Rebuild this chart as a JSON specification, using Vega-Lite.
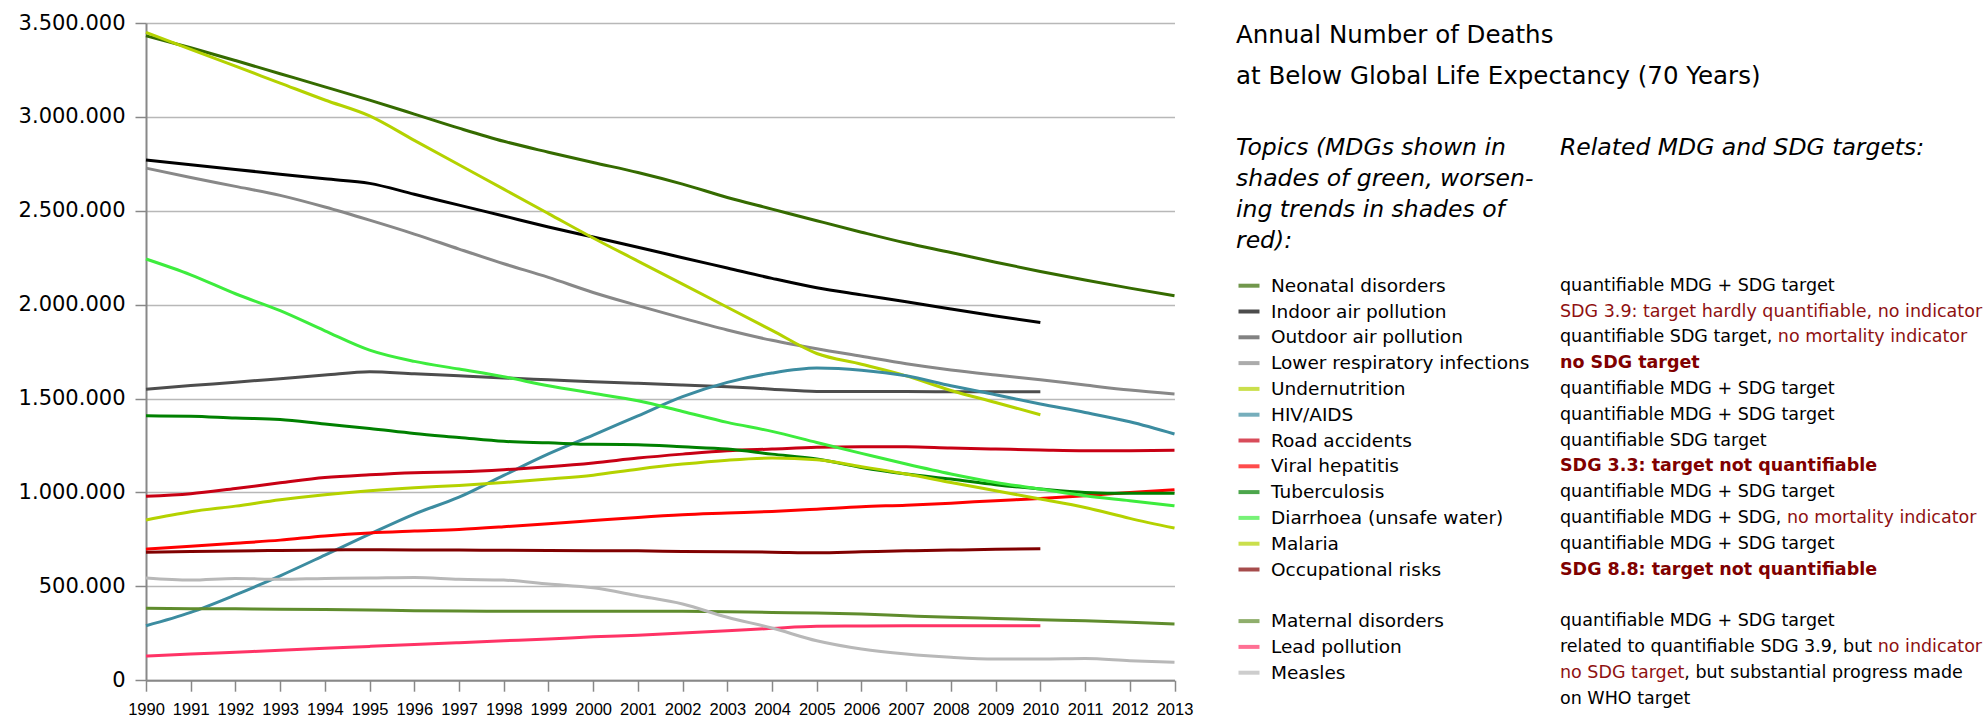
{
  "$schema": "https://vega.github.io/schema/vega-lite/v6.json",
  "background": "white",
  "padding": {"left": 18, "top": 12, "right": 0, "bottom": 0},
  "bounds": "flush",
  "spacing": 61,
  "config": {
    "view": {"stroke": null},
    "font": "DejaVu Sans",
    "locale": {"number": {"decimal": ",", "thousands": ".", "grouping": [3], "currency": ["", " €"]}}
  },
  "resolve": {"scale": {"color": "independent", "x": "independent", "y": "independent"}},
  "datasets": {
    "deaths": [
      {"topic":"Neonatal disorders","year":1990,"deaths":3432000},{"topic":"Neonatal disorders","year":1991,"deaths":3368000},{"topic":"Neonatal disorders","year":1992,"deaths":3300000},{"topic":"Neonatal disorders","year":1993,"deaths":3230000},{"topic":"Neonatal disorders","year":1994,"deaths":3160000},{"topic":"Neonatal disorders","year":1995,"deaths":3089000},{"topic":"Neonatal disorders","year":1996,"deaths":3015000},{"topic":"Neonatal disorders","year":1997,"deaths":2940000},{"topic":"Neonatal disorders","year":1998,"deaths":2870000},{"topic":"Neonatal disorders","year":1999,"deaths":2812000},{"topic":"Neonatal disorders","year":2000,"deaths":2757000},{"topic":"Neonatal disorders","year":2001,"deaths":2704000},{"topic":"Neonatal disorders","year":2002,"deaths":2642000},{"topic":"Neonatal disorders","year":2003,"deaths":2571000},{"topic":"Neonatal disorders","year":2004,"deaths":2509000},{"topic":"Neonatal disorders","year":2005,"deaths":2447000},{"topic":"Neonatal disorders","year":2006,"deaths":2386000},{"topic":"Neonatal disorders","year":2007,"deaths":2328000},{"topic":"Neonatal disorders","year":2008,"deaths":2278000},{"topic":"Neonatal disorders","year":2009,"deaths":2226000},{"topic":"Neonatal disorders","year":2010,"deaths":2177000},{"topic":"Neonatal disorders","year":2011,"deaths":2131000},{"topic":"Neonatal disorders","year":2012,"deaths":2088000},{"topic":"Neonatal disorders","year":2013,"deaths":2047000},
      {"topic":"Indoor air pollution","year":1990,"deaths":2770000},{"topic":"Indoor air pollution","year":1991,"deaths":2745000},{"topic":"Indoor air pollution","year":1992,"deaths":2720000},{"topic":"Indoor air pollution","year":1993,"deaths":2695000},{"topic":"Indoor air pollution","year":1994,"deaths":2670000},{"topic":"Indoor air pollution","year":1995,"deaths":2646000},{"topic":"Indoor air pollution","year":1996,"deaths":2588000},{"topic":"Indoor air pollution","year":1997,"deaths":2530000},{"topic":"Indoor air pollution","year":1998,"deaths":2472000},{"topic":"Indoor air pollution","year":1999,"deaths":2414000},{"topic":"Indoor air pollution","year":2000,"deaths":2360000},{"topic":"Indoor air pollution","year":2001,"deaths":2306000},{"topic":"Indoor air pollution","year":2002,"deaths":2250000},{"topic":"Indoor air pollution","year":2003,"deaths":2195000},{"topic":"Indoor air pollution","year":2004,"deaths":2140000},{"topic":"Indoor air pollution","year":2005,"deaths":2090000},{"topic":"Indoor air pollution","year":2006,"deaths":2052000},{"topic":"Indoor air pollution","year":2007,"deaths":2015000},{"topic":"Indoor air pollution","year":2008,"deaths":1977000},{"topic":"Indoor air pollution","year":2009,"deaths":1940000},{"topic":"Indoor air pollution","year":2010,"deaths":1905000},
      {"topic":"Outdoor air pollution","year":1990,"deaths":1550000},{"topic":"Outdoor air pollution","year":1991,"deaths":1569000},{"topic":"Outdoor air pollution","year":1992,"deaths":1587000},{"topic":"Outdoor air pollution","year":1993,"deaths":1606000},{"topic":"Outdoor air pollution","year":1994,"deaths":1625000},{"topic":"Outdoor air pollution","year":1995,"deaths":1643000},{"topic":"Outdoor air pollution","year":1996,"deaths":1632000},{"topic":"Outdoor air pollution","year":1997,"deaths":1621000},{"topic":"Outdoor air pollution","year":1998,"deaths":1610000},{"topic":"Outdoor air pollution","year":1999,"deaths":1600000},{"topic":"Outdoor air pollution","year":2000,"deaths":1590000},{"topic":"Outdoor air pollution","year":2001,"deaths":1581000},{"topic":"Outdoor air pollution","year":2002,"deaths":1572000},{"topic":"Outdoor air pollution","year":2003,"deaths":1563000},{"topic":"Outdoor air pollution","year":2004,"deaths":1550000},{"topic":"Outdoor air pollution","year":2005,"deaths":1538000},{"topic":"Outdoor air pollution","year":2006,"deaths":1537000},{"topic":"Outdoor air pollution","year":2007,"deaths":1537000},{"topic":"Outdoor air pollution","year":2008,"deaths":1536000},{"topic":"Outdoor air pollution","year":2009,"deaths":1536000},{"topic":"Outdoor air pollution","year":2010,"deaths":1536000},
      {"topic":"Lower respiratory infections","year":1990,"deaths":2727000},{"topic":"Lower respiratory infections","year":1991,"deaths":2677000},{"topic":"Lower respiratory infections","year":1992,"deaths":2630000},{"topic":"Lower respiratory infections","year":1993,"deaths":2582000},{"topic":"Lower respiratory infections","year":1994,"deaths":2520000},{"topic":"Lower respiratory infections","year":1995,"deaths":2450000},{"topic":"Lower respiratory infections","year":1996,"deaths":2376000},{"topic":"Lower respiratory infections","year":1997,"deaths":2296000},{"topic":"Lower respiratory infections","year":1998,"deaths":2218000},{"topic":"Lower respiratory infections","year":1999,"deaths":2145000},{"topic":"Lower respiratory infections","year":2000,"deaths":2065000},{"topic":"Lower respiratory infections","year":2001,"deaths":1995000},{"topic":"Lower respiratory infections","year":2002,"deaths":1928000},{"topic":"Lower respiratory infections","year":2003,"deaths":1865000},{"topic":"Lower respiratory infections","year":2004,"deaths":1810000},{"topic":"Lower respiratory infections","year":2005,"deaths":1765000},{"topic":"Lower respiratory infections","year":2006,"deaths":1725000},{"topic":"Lower respiratory infections","year":2007,"deaths":1685000},{"topic":"Lower respiratory infections","year":2008,"deaths":1652000},{"topic":"Lower respiratory infections","year":2009,"deaths":1625000},{"topic":"Lower respiratory infections","year":2010,"deaths":1600000},{"topic":"Lower respiratory infections","year":2011,"deaths":1572000},{"topic":"Lower respiratory infections","year":2012,"deaths":1545000},{"topic":"Lower respiratory infections","year":2013,"deaths":1524000},
      {"topic":"Undernutrition","year":1990,"deaths":3450000},{"topic":"Undernutrition","year":1991,"deaths":3360000},{"topic":"Undernutrition","year":1992,"deaths":3270000},{"topic":"Undernutrition","year":1993,"deaths":3180000},{"topic":"Undernutrition","year":1994,"deaths":3090000},{"topic":"Undernutrition","year":1995,"deaths":3005000},{"topic":"Undernutrition","year":1996,"deaths":2875000},{"topic":"Undernutrition","year":1997,"deaths":2745000},{"topic":"Undernutrition","year":1998,"deaths":2615000},{"topic":"Undernutrition","year":1999,"deaths":2485000},{"topic":"Undernutrition","year":2000,"deaths":2355000},{"topic":"Undernutrition","year":2001,"deaths":2232000},{"topic":"Undernutrition","year":2002,"deaths":2109000},{"topic":"Undernutrition","year":2003,"deaths":1986000},{"topic":"Undernutrition","year":2004,"deaths":1863000},{"topic":"Undernutrition","year":2005,"deaths":1740000},{"topic":"Undernutrition","year":2006,"deaths":1683000},{"topic":"Undernutrition","year":2007,"deaths":1621000},{"topic":"Undernutrition","year":2008,"deaths":1543000},{"topic":"Undernutrition","year":2009,"deaths":1479000},{"topic":"Undernutrition","year":2010,"deaths":1414000},
      {"topic":"HIV/AIDS","year":1990,"deaths":290000},{"topic":"HIV/AIDS","year":1991,"deaths":361000},{"topic":"HIV/AIDS","year":1992,"deaths":454000},{"topic":"HIV/AIDS","year":1993,"deaths":556000},{"topic":"HIV/AIDS","year":1994,"deaths":666000},{"topic":"HIV/AIDS","year":1995,"deaths":778000},{"topic":"HIV/AIDS","year":1996,"deaths":885000},{"topic":"HIV/AIDS","year":1997,"deaths":975000},{"topic":"HIV/AIDS","year":1998,"deaths":1091000},{"topic":"HIV/AIDS","year":1999,"deaths":1205000},{"topic":"HIV/AIDS","year":2000,"deaths":1305000},{"topic":"HIV/AIDS","year":2001,"deaths":1408000},{"topic":"HIV/AIDS","year":2002,"deaths":1510000},{"topic":"HIV/AIDS","year":2003,"deaths":1586000},{"topic":"HIV/AIDS","year":2004,"deaths":1636000},{"topic":"HIV/AIDS","year":2005,"deaths":1662000},{"topic":"HIV/AIDS","year":2006,"deaths":1651000},{"topic":"HIV/AIDS","year":2007,"deaths":1621000},{"topic":"HIV/AIDS","year":2008,"deaths":1568000},{"topic":"HIV/AIDS","year":2009,"deaths":1520000},{"topic":"HIV/AIDS","year":2010,"deaths":1471000},{"topic":"HIV/AIDS","year":2011,"deaths":1426000},{"topic":"HIV/AIDS","year":2012,"deaths":1376000},{"topic":"HIV/AIDS","year":2013,"deaths":1311000},
      {"topic":"Road accidents","year":1990,"deaths":979000},{"topic":"Road accidents","year":1991,"deaths":993000},{"topic":"Road accidents","year":1992,"deaths":1021000},{"topic":"Road accidents","year":1993,"deaths":1051000},{"topic":"Road accidents","year":1994,"deaths":1079000},{"topic":"Road accidents","year":1995,"deaths":1094000},{"topic":"Road accidents","year":1996,"deaths":1105000},{"topic":"Road accidents","year":1997,"deaths":1110000},{"topic":"Road accidents","year":1998,"deaths":1121000},{"topic":"Road accidents","year":1999,"deaths":1137000},{"topic":"Road accidents","year":2000,"deaths":1157000},{"topic":"Road accidents","year":2001,"deaths":1183000},{"topic":"Road accidents","year":2002,"deaths":1204000},{"topic":"Road accidents","year":2003,"deaths":1222000},{"topic":"Road accidents","year":2004,"deaths":1231000},{"topic":"Road accidents","year":2005,"deaths":1240000},{"topic":"Road accidents","year":2006,"deaths":1243000},{"topic":"Road accidents","year":2007,"deaths":1243000},{"topic":"Road accidents","year":2008,"deaths":1236000},{"topic":"Road accidents","year":2009,"deaths":1231000},{"topic":"Road accidents","year":2010,"deaths":1226000},{"topic":"Road accidents","year":2011,"deaths":1222000},{"topic":"Road accidents","year":2012,"deaths":1222000},{"topic":"Road accidents","year":2013,"deaths":1224000},
      {"topic":"Viral hepatitis","year":1990,"deaths":698000},{"topic":"Viral hepatitis","year":1991,"deaths":713000},{"topic":"Viral hepatitis","year":1992,"deaths":729000},{"topic":"Viral hepatitis","year":1993,"deaths":746000},{"topic":"Viral hepatitis","year":1994,"deaths":768000},{"topic":"Viral hepatitis","year":1995,"deaths":784000},{"topic":"Viral hepatitis","year":1996,"deaths":794000},{"topic":"Viral hepatitis","year":1997,"deaths":803000},{"topic":"Viral hepatitis","year":1998,"deaths":817000},{"topic":"Viral hepatitis","year":1999,"deaths":833000},{"topic":"Viral hepatitis","year":2000,"deaths":850000},{"topic":"Viral hepatitis","year":2001,"deaths":867000},{"topic":"Viral hepatitis","year":2002,"deaths":881000},{"topic":"Viral hepatitis","year":2003,"deaths":890000},{"topic":"Viral hepatitis","year":2004,"deaths":899000},{"topic":"Viral hepatitis","year":2005,"deaths":911000},{"topic":"Viral hepatitis","year":2006,"deaths":924000},{"topic":"Viral hepatitis","year":2007,"deaths":932000},{"topic":"Viral hepatitis","year":2008,"deaths":943000},{"topic":"Viral hepatitis","year":2009,"deaths":956000},{"topic":"Viral hepatitis","year":2010,"deaths":968000},{"topic":"Viral hepatitis","year":2011,"deaths":982000},{"topic":"Viral hepatitis","year":2012,"deaths":1000000},{"topic":"Viral hepatitis","year":2013,"deaths":1014000},
      {"topic":"Tuberculosis","year":1990,"deaths":1408000},{"topic":"Tuberculosis","year":1991,"deaths":1406000},{"topic":"Tuberculosis","year":1992,"deaths":1396000},{"topic":"Tuberculosis","year":1993,"deaths":1389000},{"topic":"Tuberculosis","year":1994,"deaths":1364000},{"topic":"Tuberculosis","year":1995,"deaths":1341000},{"topic":"Tuberculosis","year":1996,"deaths":1314000},{"topic":"Tuberculosis","year":1997,"deaths":1293000},{"topic":"Tuberculosis","year":1998,"deaths":1272000},{"topic":"Tuberculosis","year":1999,"deaths":1264000},{"topic":"Tuberculosis","year":2000,"deaths":1256000},{"topic":"Tuberculosis","year":2001,"deaths":1254000},{"topic":"Tuberculosis","year":2002,"deaths":1243000},{"topic":"Tuberculosis","year":2003,"deaths":1231000},{"topic":"Tuberculosis","year":2004,"deaths":1204000},{"topic":"Tuberculosis","year":2005,"deaths":1178000},{"topic":"Tuberculosis","year":2006,"deaths":1133000},{"topic":"Tuberculosis","year":2007,"deaths":1098000},{"topic":"Tuberculosis","year":2008,"deaths":1071000},{"topic":"Tuberculosis","year":2009,"deaths":1041000},{"topic":"Tuberculosis","year":2010,"deaths":1018000},{"topic":"Tuberculosis","year":2011,"deaths":1000000},{"topic":"Tuberculosis","year":2012,"deaths":995000},{"topic":"Tuberculosis","year":2013,"deaths":995000},
      {"topic":"Diarrhoea (unsafe water)","year":1990,"deaths":2243000},{"topic":"Diarrhoea (unsafe water)","year":1991,"deaths":2159000},{"topic":"Diarrhoea (unsafe water)","year":1992,"deaths":2058000},{"topic":"Diarrhoea (unsafe water)","year":1993,"deaths":1968000},{"topic":"Diarrhoea (unsafe water)","year":1994,"deaths":1861000},{"topic":"Diarrhoea (unsafe water)","year":1995,"deaths":1758000},{"topic":"Diarrhoea (unsafe water)","year":1996,"deaths":1698000},{"topic":"Diarrhoea (unsafe water)","year":1997,"deaths":1657000},{"topic":"Diarrhoea (unsafe water)","year":1998,"deaths":1616000},{"topic":"Diarrhoea (unsafe water)","year":1999,"deaths":1568000},{"topic":"Diarrhoea (unsafe water)","year":2000,"deaths":1528000},{"topic":"Diarrhoea (unsafe water)","year":2001,"deaths":1488000},{"topic":"Diarrhoea (unsafe water)","year":2002,"deaths":1431000},{"topic":"Diarrhoea (unsafe water)","year":2003,"deaths":1373000},{"topic":"Diarrhoea (unsafe water)","year":2004,"deaths":1325000},{"topic":"Diarrhoea (unsafe water)","year":2005,"deaths":1266000},{"topic":"Diarrhoea (unsafe water)","year":2006,"deaths":1208000},{"topic":"Diarrhoea (unsafe water)","year":2007,"deaths":1151000},{"topic":"Diarrhoea (unsafe water)","year":2008,"deaths":1098000},{"topic":"Diarrhoea (unsafe water)","year":2009,"deaths":1053000},{"topic":"Diarrhoea (unsafe water)","year":2010,"deaths":1018000},{"topic":"Diarrhoea (unsafe water)","year":2011,"deaths":982000},{"topic":"Diarrhoea (unsafe water)","year":2012,"deaths":956000},{"topic":"Diarrhoea (unsafe water)","year":2013,"deaths":929000},
      {"topic":"Malaria","year":1990,"deaths":853000},{"topic":"Malaria","year":1991,"deaths":897000},{"topic":"Malaria","year":1992,"deaths":927000},{"topic":"Malaria","year":1993,"deaths":961000},{"topic":"Malaria","year":1994,"deaths":988000},{"topic":"Malaria","year":1995,"deaths":1009000},{"topic":"Malaria","year":1996,"deaths":1025000},{"topic":"Malaria","year":1997,"deaths":1037000},{"topic":"Malaria","year":1998,"deaths":1053000},{"topic":"Malaria","year":1999,"deaths":1071000},{"topic":"Malaria","year":2000,"deaths":1092000},{"topic":"Malaria","year":2001,"deaths":1124000},{"topic":"Malaria","year":2002,"deaths":1151000},{"topic":"Malaria","year":2003,"deaths":1172000},{"topic":"Malaria","year":2004,"deaths":1183000},{"topic":"Malaria","year":2005,"deaths":1174000},{"topic":"Malaria","year":2006,"deaths":1137000},{"topic":"Malaria","year":2007,"deaths":1098000},{"topic":"Malaria","year":2008,"deaths":1053000},{"topic":"Malaria","year":2009,"deaths":1009000},{"topic":"Malaria","year":2010,"deaths":965000},{"topic":"Malaria","year":2011,"deaths":920000},{"topic":"Malaria","year":2012,"deaths":862000},{"topic":"Malaria","year":2013,"deaths":810000},
      {"topic":"Occupational risks","year":1990,"deaths":682000},{"topic":"Occupational risks","year":1991,"deaths":685000},{"topic":"Occupational risks","year":1992,"deaths":688000},{"topic":"Occupational risks","year":1993,"deaths":691000},{"topic":"Occupational risks","year":1994,"deaths":693000},{"topic":"Occupational risks","year":1995,"deaths":695000},{"topic":"Occupational risks","year":1996,"deaths":694000},{"topic":"Occupational risks","year":1997,"deaths":693000},{"topic":"Occupational risks","year":1998,"deaths":692000},{"topic":"Occupational risks","year":1999,"deaths":691000},{"topic":"Occupational risks","year":2000,"deaths":690000},{"topic":"Occupational risks","year":2001,"deaths":689000},{"topic":"Occupational risks","year":2002,"deaths":686000},{"topic":"Occupational risks","year":2003,"deaths":684000},{"topic":"Occupational risks","year":2004,"deaths":682000},{"topic":"Occupational risks","year":2005,"deaths":679000},{"topic":"Occupational risks","year":2006,"deaths":684000},{"topic":"Occupational risks","year":2007,"deaths":689000},{"topic":"Occupational risks","year":2008,"deaths":693000},{"topic":"Occupational risks","year":2009,"deaths":697000},{"topic":"Occupational risks","year":2010,"deaths":700000},
      {"topic":"Maternal disorders","year":1990,"deaths":383000},{"topic":"Maternal disorders","year":1991,"deaths":381000},{"topic":"Maternal disorders","year":1992,"deaths":380000},{"topic":"Maternal disorders","year":1993,"deaths":378000},{"topic":"Maternal disorders","year":1994,"deaths":376000},{"topic":"Maternal disorders","year":1995,"deaths":374000},{"topic":"Maternal disorders","year":1996,"deaths":370000},{"topic":"Maternal disorders","year":1997,"deaths":368000},{"topic":"Maternal disorders","year":1998,"deaths":367000},{"topic":"Maternal disorders","year":1999,"deaths":367000},{"topic":"Maternal disorders","year":2000,"deaths":367000},{"topic":"Maternal disorders","year":2001,"deaths":367000},{"topic":"Maternal disorders","year":2002,"deaths":367000},{"topic":"Maternal disorders","year":2003,"deaths":365000},{"topic":"Maternal disorders","year":2004,"deaths":361000},{"topic":"Maternal disorders","year":2005,"deaths":358000},{"topic":"Maternal disorders","year":2006,"deaths":352000},{"topic":"Maternal disorders","year":2007,"deaths":343000},{"topic":"Maternal disorders","year":2008,"deaths":335000},{"topic":"Maternal disorders","year":2009,"deaths":329000},{"topic":"Maternal disorders","year":2010,"deaths":322000},{"topic":"Maternal disorders","year":2011,"deaths":317000},{"topic":"Maternal disorders","year":2012,"deaths":308000},{"topic":"Maternal disorders","year":2013,"deaths":299000},
      {"topic":"Lead pollution","year":1990,"deaths":129000},{"topic":"Lead pollution","year":1991,"deaths":139000},{"topic":"Lead pollution","year":1992,"deaths":149000},{"topic":"Lead pollution","year":1993,"deaths":159000},{"topic":"Lead pollution","year":1994,"deaths":170000},{"topic":"Lead pollution","year":1995,"deaths":180000},{"topic":"Lead pollution","year":1996,"deaths":190000},{"topic":"Lead pollution","year":1997,"deaths":200000},{"topic":"Lead pollution","year":1998,"deaths":210000},{"topic":"Lead pollution","year":1999,"deaths":220000},{"topic":"Lead pollution","year":2000,"deaths":231000},{"topic":"Lead pollution","year":2001,"deaths":240000},{"topic":"Lead pollution","year":2002,"deaths":251000},{"topic":"Lead pollution","year":2003,"deaths":263000},{"topic":"Lead pollution","year":2004,"deaths":276000},{"topic":"Lead pollution","year":2005,"deaths":287000},{"topic":"Lead pollution","year":2006,"deaths":289000},{"topic":"Lead pollution","year":2007,"deaths":290000},{"topic":"Lead pollution","year":2008,"deaths":290000},{"topic":"Lead pollution","year":2009,"deaths":290000},{"topic":"Lead pollution","year":2010,"deaths":290000},
      {"topic":"Measles","year":1990,"deaths":544000},{"topic":"Measles","year":1991,"deaths":533000},{"topic":"Measles","year":1992,"deaths":542000},{"topic":"Measles","year":1993,"deaths":537000},{"topic":"Measles","year":1994,"deaths":542000},{"topic":"Measles","year":1995,"deaths":544000},{"topic":"Measles","year":1996,"deaths":547000},{"topic":"Measles","year":1997,"deaths":537000},{"topic":"Measles","year":1998,"deaths":533000},{"topic":"Measles","year":1999,"deaths":512000},{"topic":"Measles","year":2000,"deaths":492000},{"topic":"Measles","year":2001,"deaths":450000},{"topic":"Measles","year":2002,"deaths":406000},{"topic":"Measles","year":2003,"deaths":335000},{"topic":"Measles","year":2004,"deaths":278000},{"topic":"Measles","year":2005,"deaths":210000},{"topic":"Measles","year":2006,"deaths":166000},{"topic":"Measles","year":2007,"deaths":139000},{"topic":"Measles","year":2008,"deaths":122000},{"topic":"Measles","year":2009,"deaths":113000},{"topic":"Measles","year":2010,"deaths":113000},{"topic":"Measles","year":2011,"deaths":116000},{"topic":"Measles","year":2012,"deaths":104000},{"topic":"Measles","year":2013,"deaths":95000}
    ],
    "titleLines": [
      {"col":"left","line":1,"text":"Annual Number of Deaths"},
      {"col":"left","line":2,"text":"at Below Global Life Expectancy (70 Years)"}
    ],
    "headers": [
      {"col":"left","line":1,"text":"Topics (MDGs shown in"},
      {"col":"left","line":2,"text":"shades of green, worsen-"},
      {"col":"left","line":3,"text":"ing trends in shades of"},
      {"col":"left","line":4,"text":"red):"},
      {"col":"right","line":1,"text":"Related MDG and SDG targets:"}
    ],
    "topics": [
      {"col":"left","row":1,"topic":"Neonatal disorders"},
      {"col":"left","row":2,"topic":"Indoor air pollution"},
      {"col":"left","row":3,"topic":"Outdoor air pollution"},
      {"col":"left","row":4,"topic":"Lower respiratory infections"},
      {"col":"left","row":5,"topic":"Undernutrition"},
      {"col":"left","row":6,"topic":"HIV/AIDS"},
      {"col":"left","row":7,"topic":"Road accidents"},
      {"col":"left","row":8,"topic":"Viral hepatitis"},
      {"col":"left","row":9,"topic":"Tuberculosis"},
      {"col":"left","row":10,"topic":"Diarrhoea (unsafe water)"},
      {"col":"left","row":11,"topic":"Malaria"},
      {"col":"left","row":12,"topic":"Occupational risks"},
      {"col":"left","row":14,"topic":"Maternal disorders"},
      {"col":"left","row":15,"topic":"Lead pollution"},
      {"col":"left","row":16,"topic":"Measles"}
    ],
    "targets": [
      {"col":"right","row":1,"text":"quantifiable MDG + SDG target","tone":"neutral"},
      {"col":"right","row":2,"text":"SDG 3.9: target hardly quantifiable, no indicator","tone":"critical"},
      {"col":"right","row":3,"text":"quantifiable SDG target, no mortality indicator","tone":"critical","lead":"quantifiable SDG target,","leadTone":"neutral"},
      {"col":"right","row":4,"text":"no SDG target","tone":"strong"},
      {"col":"right","row":5,"text":"quantifiable MDG + SDG target","tone":"neutral"},
      {"col":"right","row":6,"text":"quantifiable MDG + SDG target","tone":"neutral"},
      {"col":"right","row":7,"text":"quantifiable SDG target","tone":"neutral"},
      {"col":"right","row":8,"text":"SDG 3.3: target not quantifiable","tone":"strong"},
      {"col":"right","row":9,"text":"quantifiable MDG + SDG target","tone":"neutral"},
      {"col":"right","row":10,"text":"quantifiable MDG + SDG, no mortality indicator","tone":"critical","lead":"quantifiable MDG + SDG,","leadTone":"neutral"},
      {"col":"right","row":11,"text":"quantifiable MDG + SDG target","tone":"neutral"},
      {"col":"right","row":12,"text":"SDG 8.8: target not quantifiable","tone":"strong"},
      {"col":"right","row":14,"text":"quantifiable MDG + SDG target","tone":"neutral"},
      {"col":"right","row":15,"text":"related to quantifiable SDG 3.9, but no indicator","tone":"critical","lead":"related to quantifiable SDG 3.9, but","leadTone":"neutral"},
      {"col":"right","row":16,"text":"no SDG target, but substantial progress made","tone":"neutral","lead":"no SDG target","leadTone":"critical"},
      {"col":"right","row":17,"text":"on WHO target","tone":"neutral"}
    ]
  },
  "hconcat": [
    {
      "width": 1028.5,
      "height": 657.2,
      "data": {"name": "deaths"},
      "mark": {"type": "line", "strokeWidth": 3, "interpolate": "monotone"},
      "encoding": {
        "x": {
          "field": "year", "type": "quantitative",
          "scale": {"domain": [1990, 2013], "nice": false, "zero": false},
          "axis": {
            "values": [1990,1991,1992,1993,1994,1995,1996,1997,1998,1999,2000,2001,2002,2003,2004,2005,2006,2007,2008,2009,2010,2011,2012,2013],
            "format": "d", "title": null, "grid": false, "labelAngle": 0,
            "labelFont": "Liberation Sans", "labelFontSize": 16.5, "labelColor": "#000000",
            "labelPadding": 10, "labelOverlap": false, "labelFlush": false,
            "tickSize": 11, "tickColor": "#888888", "tickWidth": 1.5,
            "domainColor": "#888888", "domainWidth": 2
          }
        },
        "y": {
          "field": "deaths", "type": "quantitative",
          "scale": {"domain": [0, 3500000], "nice": false},
          "axis": {
            "values": [0, 500000, 1000000, 1500000, 2000000, 2500000, 3000000, 3500000],
            "format": ",.0f", "title": null, "grid": true,
            "gridColor": "#b8b8b8", "gridWidth": 1.3,
            "labelFont": "DejaVu Sans", "labelFontSize": 21, "labelColor": "#000000",
            "labelPadding": 10,
            "tickSize": 11, "tickColor": "#888888", "tickWidth": 1.5,
            "domainColor": "#888888", "domainWidth": 2
          }
        },
        "color": {
          "field": "topic", "type": "nominal",
          "scale": {
            "domain": ["Neonatal disorders","Indoor air pollution","Outdoor air pollution","Lower respiratory infections","Undernutrition","HIV/AIDS","Road accidents","Viral hepatitis","Tuberculosis","Diarrhoea (unsafe water)","Malaria","Occupational risks","Maternal disorders","Lead pollution","Measles"],
            "range": ["#356b00","#000000","#4d4d4d","#888888","#b4d200","#3c8ca0","#c80014","#ff0000","#008000","#3dec3d","#b4d200","#800000","#5f8c2d","#ff3366","#b8b8b8"]
          },
          "legend": null
        }
      }
    },
    {
      "width": 749,
      "height": 692.7,
      "resolve": {"scale": {"y": "independent"}},
      "layer": [
        {
          "data": {"name": "titleLines"},
          "mark": {"type": "text", "align": "left", "baseline": "middle", "font": "DejaVu Sans", "fontSize": 24.5, "color": "#000000"},
          "encoding": {
            "x": {"field": "col", "type": "nominal", "scale": {"type": "point", "domain": ["left", "right"], "range": [0, 324], "padding": 0}, "axis": null},
            "y": {"field": "line", "type": "quantitative", "scale": {"domain": [1, 2], "range": [12.7, 53.7]}, "axis": null},
            "text": {"field": "text"}
          }
        },
        {
          "data": {"name": "headers"},
          "mark": {"type": "text", "align": "left", "baseline": "middle", "font": "DejaVu Sans", "fontStyle": "italic", "fontSize": 23.5, "color": "#000000"},
          "encoding": {
            "x": {"field": "col", "type": "nominal", "scale": {"type": "point", "domain": ["left", "right"], "range": [0, 324], "padding": 0}, "axis": null},
            "y": {"field": "line", "type": "quantitative", "scale": {"domain": [1, 4], "range": [124.7, 217.7]}, "axis": null},
            "text": {"field": "text"}
          }
        },
        {
          "data": {"name": "topics"},
          "mark": {"type": "tick", "size": 21, "thickness": 4, "xOffset": 13},
          "encoding": {
            "x": {"field": "col", "type": "nominal", "scale": {"type": "point", "domain": ["left", "right"], "range": [0, 324], "padding": 0}, "axis": null},
            "y": {"field": "row", "type": "quantitative", "scale": {"domain": [1, 16], "range": [262.7, 649.7]}, "axis": null},
            "color": {
              "field": "topic", "type": "nominal",
              "scale": {
                "domain": ["Neonatal disorders","Indoor air pollution","Outdoor air pollution","Lower respiratory infections","Undernutrition","HIV/AIDS","Road accidents","Viral hepatitis","Tuberculosis","Diarrhoea (unsafe water)","Malaria","Occupational risks","Maternal disorders","Lead pollution","Measles"],
                "range": ["#356b00","#000000","#4d4d4d","#888888","#b4d200","#3c8ca0","#c80014","#ff0000","#008000","#3dec3d","#b4d200","#800000","#5f8c2d","#ff3366","#b8b8b8"]
              },
              "legend": null
            }
          }
        },
        {
          "data": {"name": "topics"},
          "mark": {"type": "text", "align": "left", "baseline": "middle", "dx": 35, "font": "DejaVu Sans", "fontSize": 18.5, "color": "#000000"},
          "encoding": {
            "x": {"field": "col", "type": "nominal", "scale": {"type": "point", "domain": ["left", "right"], "range": [0, 324], "padding": 0}, "axis": null},
            "y": {"field": "row", "type": "quantitative", "scale": {"domain": [1, 16], "range": [262.7, 649.7]}, "axis": null},
            "text": {"field": "topic"}
          }
        },
        {
          "data": {"name": "targets"},
          "transform": [{"filter": "datum.tone === 'neutral'"}],
          "mark": {"type": "text", "align": "left", "baseline": "middle", "font": "DejaVu Sans", "fontSize": 17.5, "color": "#000000"},
          "encoding": {
            "x": {"field": "col", "type": "nominal", "scale": {"type": "point", "domain": ["left", "right"], "range": [0, 324], "padding": 0}, "axis": null},
            "y": {"field": "row", "type": "quantitative", "scale": {"domain": [1, 17], "range": [262.7, 675.5]}, "axis": null},
            "text": {"field": "text"}
          }
        },
        {
          "data": {"name": "targets"},
          "transform": [{"filter": "datum.tone === 'critical'"}],
          "mark": {"type": "text", "align": "left", "baseline": "middle", "font": "DejaVu Sans", "fontSize": 17.5, "color": "#8f1111"},
          "encoding": {
            "x": {"field": "col", "type": "nominal", "scale": {"type": "point", "domain": ["left", "right"], "range": [0, 324], "padding": 0}, "axis": null},
            "y": {"field": "row", "type": "quantitative", "scale": {"domain": [1, 17], "range": [262.7, 675.5]}, "axis": null},
            "text": {"field": "text"}
          }
        },
        {
          "data": {"name": "targets"},
          "transform": [{"filter": "datum.tone === 'strong'"}],
          "mark": {"type": "text", "align": "left", "baseline": "middle", "font": "DejaVu Sans", "fontWeight": "bold", "fontSize": 17.5, "color": "#800000"},
          "encoding": {
            "x": {"field": "col", "type": "nominal", "scale": {"type": "point", "domain": ["left", "right"], "range": [0, 324], "padding": 0}, "axis": null},
            "y": {"field": "row", "type": "quantitative", "scale": {"domain": [1, 17], "range": [262.7, 675.5]}, "axis": null},
            "text": {"field": "text"}
          }
        },
        {
          "data": {"name": "targets"},
          "transform": [{"filter": "isValid(datum.lead)"}],
          "mark": {"type": "text", "align": "left", "baseline": "middle", "font": "DejaVu Sans", "fontSize": 17.5, "color": "#ffffff", "stroke": "#ffffff", "strokeWidth": 2.2},
          "encoding": {
            "x": {"field": "col", "type": "nominal", "scale": {"type": "point", "domain": ["left", "right"], "range": [0, 324], "padding": 0}, "axis": null},
            "y": {"field": "row", "type": "quantitative", "scale": {"domain": [1, 17], "range": [262.7, 675.5]}, "axis": null},
            "text": {"field": "lead"}
          }
        },
        {
          "data": {"name": "targets"},
          "transform": [{"filter": "datum.leadTone === 'neutral'"}],
          "mark": {"type": "text", "align": "left", "baseline": "middle", "font": "DejaVu Sans", "fontSize": 17.5, "color": "#000000"},
          "encoding": {
            "x": {"field": "col", "type": "nominal", "scale": {"type": "point", "domain": ["left", "right"], "range": [0, 324], "padding": 0}, "axis": null},
            "y": {"field": "row", "type": "quantitative", "scale": {"domain": [1, 17], "range": [262.7, 675.5]}, "axis": null},
            "text": {"field": "lead"}
          }
        },
        {
          "data": {"name": "targets"},
          "transform": [{"filter": "datum.leadTone === 'critical'"}],
          "mark": {"type": "text", "align": "left", "baseline": "middle", "font": "DejaVu Sans", "fontSize": 17.5, "color": "#8f1111"},
          "encoding": {
            "x": {"field": "col", "type": "nominal", "scale": {"type": "point", "domain": ["left", "right"], "range": [0, 324], "padding": 0}, "axis": null},
            "y": {"field": "row", "type": "quantitative", "scale": {"domain": [1, 17], "range": [262.7, 675.5]}, "axis": null},
            "text": {"field": "lead"}
          }
        }
      ]
    }
  ]
}
